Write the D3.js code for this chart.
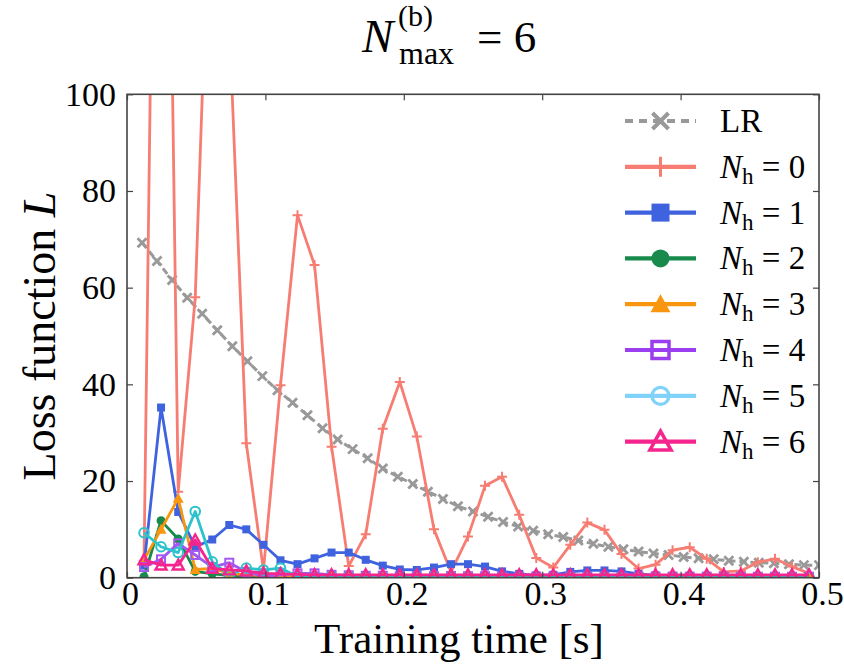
<!DOCTYPE html>
<html>
<head>
<meta charset="utf-8">
<script src="https://cdnjs.cloudflare.com/ajax/libs/d3/7.8.5/d3.min.js"></script>
<style>
  body { margin: 0; background: #fff; }
  text { font-family: "Liberation Serif", "Times New Roman", serif; fill: #000; }
</style>
</head>
<body>
<svg id="chart"></svg>
<script>
// time grids (s)
var timesLR = [0.0109, 0.0217, 0.0326, 0.0435, 0.0543, 0.0652, 0.0761, 0.0870, 0.0978, 0.1087,
  0.1196, 0.1304, 0.1413, 0.1522, 0.1630, 0.1739, 0.1848, 0.1957, 0.2065, 0.2174,
  0.2283, 0.2391, 0.2500, 0.2609, 0.2717, 0.2826, 0.2935, 0.3043, 0.3152, 0.3261,
  0.3370, 0.3478, 0.3587, 0.3696, 0.3804, 0.3913, 0.4022, 0.4130, 0.4239, 0.4348,
  0.4457, 0.4565, 0.4674, 0.4783, 0.4891, 0.5000];
var timesNh = [0.0123, 0.0246, 0.0370, 0.0493, 0.0616, 0.0739, 0.0862, 0.0986, 0.1109, 0.1232,
  0.1355, 0.1478, 0.1602, 0.1725, 0.1848, 0.1971, 0.2094, 0.2218, 0.2341, 0.2464,
  0.2587, 0.2710, 0.2834, 0.2957, 0.3080, 0.3203, 0.3326, 0.3450, 0.3573, 0.3696,
  0.3819, 0.3942, 0.4066, 0.4189, 0.4312, 0.4435, 0.4558, 0.4682, 0.4805, 0.4928];

// loss values
var lossLR = [69.3, 65.5, 61.6, 57.9, 54.6, 51.2, 47.9, 44.8, 41.7, 38.8,
  36.2, 33.6, 30.9, 28.6, 26.6, 24.7, 22.6, 20.9, 19.4, 17.8,
  16.3, 14.8, 13.7, 12.6, 11.5, 10.6, 9.7, 9.0, 8.4, 7.7,
  7.0, 6.4, 5.9, 5.4, 5.0, 4.7, 4.3, 4.0, 3.8, 3.5,
  3.3, 3.1, 3.0, 2.8, 2.6, 2.6];
var lossN0 = [3.5, 270, 17.8, 58, 159, 115, 27.8, 1.5, 39.8, 75,
  64.7, 27.1, 2.4, 9.0, 30.8, 40.5, 29.2, 10.0, 1.2, 8.5,
  19.0, 20.9, 13.0, 4.1, 2.1, 6.8, 11.4, 9.9, 4.9, 1.9,
  2.7, 5.7, 6.3, 3.9, 1.2, 1.4, 3.2, 3.9, 2.3, 0.9];
var lossN1 = [2.5, 35.2, 13.6, 6.4, 7.9, 10.9, 10.0, 6.8, 3.6, 2.8,
  4.0, 5.2, 5.2, 3.7, 2.5, 1.7, 1.6, 2.1, 2.8, 2.8,
  2.3, 1.3, 0.8, 0.5, 0.6, 1.2, 1.5, 1.5, 1.3, 0.8,
  0.5, 0.4, 0.4, 0.4, 0.4, 0.3, 0.3, 0.3, 0.3, 0.3];
var lossN2 = [0.2, 11.8, 8.0, 1.3, 0.8, 0.5, 0.4, 0.3, 0.3, 0.2,
  0.2, 0.2, 0.2, 0.2, 0.2, 0.2, 0.2, 0.2, 0.2, 0.2,
  0.2, 0.2, 0.2, 0.2, 0.2, 0.2, 0.2, 0.2, 0.2, 0.2,
  0.2, 0.2, 0.2, 0.2, 0.2, 0.2, 0.2, 0.2, 0.2, 0.2];
var lossN3 = [3.7, 10.0, 16.4, 1.7, 1.9, 0.9, 0.6, 0.5, 0.4, 0.4,
  0.3, 0.3, 0.3, 0.3, 0.3, 0.3, 0.3, 0.3, 0.3, 0.3,
  0.3, 0.3, 0.3, 0.3, 0.3, 0.3, 0.3, 0.3, 0.3, 0.3,
  0.3, 0.3, 0.3, 0.3, 0.3, 0.3, 0.3, 0.3, 0.3, 0.3];
var lossN4 = [2.2, 3.8, 7.1, 4.7, 2.2, 3.1, 1.2, 0.3, 0.6, 0.9,
  0.9, 0.6, 0.5, 0.4, 0.4, 0.3, 0.3, 0.3, 0.3, 0.3,
  0.3, 0.2, 0.2, 0.2, 0.2, 0.2, 0.2, 0.2, 0.2, 0.2,
  0.2, 0.2, 0.2, 0.2, 0.2, 0.2, 0.2, 0.2, 0.2, 0.2];
var lossN5 = [9.3, 6.4, 5.2, 13.7, 3.3, 0.5, 2.0, 1.6, 2.0, 0.2,
  0.2, 0.4, 0.3, 0.2, 0.2, 0.2, 0.2, 0.2, 0.2, 0.2,
  0.1, 0.1, 0.1, 0.1, 0.1, 0.1, 0.1, 0.1, 0.1, 0.1,
  0.1, 0.1, 0.1, 0.1, 0.1, 0.1, 0.1, 0.1, 0.1, 0.1];
var lossN6 = [3.7, 2.6, 2.6, 7.8, 1.9, 1.6, 1.4, 0.9, 0.8, 0.7,
  0.6, 0.6, 0.6, 0.6, 0.6, 0.6, 0.6, 0.6, 0.6, 0.6,
  0.6, 0.6, 0.6, 0.6, 0.6, 0.6, 0.6, 0.6, 0.6, 0.6,
  0.6, 0.6, 0.6, 0.6, 0.6, 0.6, 0.6, 0.6, 0.6, 0.6];

var xTicks = [0, 0.1, 0.2, 0.3, 0.4, 0.5];
var yTicks = [0, 20, 40, 60, 80, 100];
var hiddenCounts = ["0", "1", "2", "3", "4", "5", "6"];

var width = 844, height = 670;
var margin = {left: 127, right: 25, top: 94.3, bottom: 92.3};

var svg = d3.select("#chart").attr("width", width).attr("height", height);

var xScale = d3.scaleLinear().domain([0, 0.5]).range([margin.left, width - margin.right]);
var yScale = d3.scaleLinear().domain([0, 100]).range([height - margin.bottom, margin.top]);

// series table
var series = [
  {label: "LR", t: timesLR, y: lossLR, color: "#999999", legendColor: "#999999", marker: "x", dash: "7,4"},
  {label: hiddenCounts[0], t: timesNh, y: lossN0, color: "#f77d72", legendColor: "#f77d72", marker: "plus"},
  {label: hiddenCounts[1], t: timesNh, y: lossN1, color: "#3f63df", legendColor: "#3f63df", marker: "square"},
  {label: hiddenCounts[2], t: timesNh, y: lossN2, color: "#178a4c", legendColor: "#178a4c", marker: "circle"},
  {label: hiddenCounts[3], t: timesNh, y: lossN3, color: "#f9960f", legendColor: "#f9960f", marker: "triangle"},
  {label: hiddenCounts[4], t: timesNh, y: lossN4, color: "#a259f0", legendColor: "#9a3ef0", marker: "squareOpen"},
  {label: hiddenCounts[5], t: timesNh, y: lossN5, color: "#2cc3cc", legendColor: "#80d2f8", marker: "circleOpen"},
  {label: hiddenCounts[6], t: timesNh, y: lossN6, color: "#f5258d", legendColor: "#f5258d", marker: "triangleOpen"}
];

function drawMarker(g, type, color, s, sw) {
  if (type === "x") {
    g.append("path").attr("d", "M" + (-s) + "," + (-s) + "L" + s + "," + s + "M" + (-s) + "," + s + "L" + s + "," + (-s))
      .attr("stroke", color).attr("stroke-width", sw).attr("fill", "none");
  } else if (type === "plus") {
    g.append("path").attr("d", "M" + (-s) + ",0H" + s + "M0," + (-s) + "V" + s)
      .attr("stroke", color).attr("stroke-width", sw).attr("fill", "none");
  } else if (type === "square" || type === "squareOpen") {
    var r = g.append("rect").attr("x", -s).attr("y", -s).attr("width", 2 * s).attr("height", 2 * s);
    if (type === "square") r.attr("fill", color);
    else r.attr("fill", "none").attr("stroke", color).attr("stroke-width", sw);
  } else if (type === "circle" || type === "circleOpen") {
    var c = g.append("circle").attr("r", s);
    if (type === "circle") c.attr("fill", color);
    else c.attr("fill", "none").attr("stroke", color).attr("stroke-width", sw);
  } else {
    var p = g.append("path").attr("d", "M0," + (-s) + "L" + s + "," + (s * 0.8) + "L" + (-s) + "," + (s * 0.8) + "Z");
    if (type === "triangle") p.attr("fill", color);
    else p.attr("fill", "none").attr("stroke", color).attr("stroke-width", sw).attr("stroke-linejoin", "miter");
  }
}

var plotSize = {x: 4.5, plus: 5, square: 4, circle: 4.5, triangle: 5.5, squareOpen: 4, circleOpen: 4.8, triangleOpen: 5.5};
var plotStroke = {x: 2.8, plus: 2, squareOpen: 2, circleOpen: 2, triangleOpen: 2.4};

svg.append("clipPath").attr("id", "plotclip").append("rect")
  .attr("x", margin.left).attr("y", margin.top)
  .attr("width", width - margin.left - margin.right)
  .attr("height", height - margin.top - margin.bottom);

var plot = svg.append("g").attr("clip-path", "url(#plotclip)");

var line = d3.line().x(function(d) { return xScale(d[0]); }).y(function(d) { return yScale(d[1]); });

series.forEach(function(s) {
  var pts = s.t.map(function(t, i) { return [t, s.y[i]]; });
  var g = plot.append("g");
  g.append("path").datum(pts).attr("d", line)
    .attr("fill", "none").attr("stroke", s.color).attr("stroke-width", s.dash ? 3 : 2.8)
    .attr("stroke-dasharray", s.dash || null).attr("stroke-linejoin", "round");
  g.selectAll("g.mk").data(pts).enter().append("g").attr("class", "mk")
    .attr("transform", function(d) { return "translate(" + xScale(d[0]) + "," + yScale(d[1]) + ")"; })
    .each(function() { drawMarker(d3.select(this), s.marker, s.color, plotSize[s.marker], plotStroke[s.marker] || 2); });
});

// frame and ticks
var axisColor = "#444";
var xAxisB = svg.append("g").attr("transform", "translate(0," + (height - margin.bottom) + ")")
  .call(d3.axisBottom(xScale).tickValues(xTicks).tickSize(-6).tickPadding(3).tickFormat(d3.format("")));
var xAxisT = svg.append("g").attr("transform", "translate(0," + margin.top + ")")
  .call(d3.axisTop(xScale).tickValues(xTicks).tickSize(-6).tickFormat(""));
var yAxisL = svg.append("g").attr("transform", "translate(" + margin.left + ",0)")
  .call(d3.axisLeft(yScale).tickValues(yTicks).tickSize(-6).tickPadding(11));
var yAxisR = svg.append("g").attr("transform", "translate(" + (width - margin.right) + ",0)")
  .call(d3.axisRight(yScale).tickValues(yTicks).tickSize(-6).tickFormat(""));

[xAxisB, xAxisT, yAxisL, yAxisR].forEach(function(a) {
  a.select(".domain").remove();
  a.selectAll("line").attr("stroke", axisColor).attr("stroke-width", 1.2);
  a.selectAll("text").attr("font-size", 34).attr("fill", "#000");
});
xAxisB.selectAll("text").attr("dx", 3);

svg.append("rect").attr("x", margin.left).attr("y", margin.top)
  .attr("width", width - margin.left - margin.right).attr("height", height - margin.top - margin.bottom)
  .attr("fill", "none").attr("stroke", axisColor).attr("stroke-width", 1.6);

// axis titles
svg.append("text").attr("x", 459).attr("y", 653).attr("text-anchor", "middle")
  .attr("font-size", 43).text("Training time [s]");
var yl = svg.append("text").attr("transform", "translate(55,336) rotate(-90)").attr("text-anchor", "middle")
  .attr("font-size", 46);
yl.append("tspan").text("Loss function ");
yl.append("tspan").attr("font-style", "italic").text("L");

// title
svg.append("text").attr("x", 362).attr("y", 52).attr("font-size", 47).attr("font-style", "italic").text("N");
svg.append("text").attr("x", 398).attr("y", 26).attr("font-size", 30).text("(b)");
svg.append("text").attr("x", 399).attr("y", 64).attr("font-size", 32).text("max");
svg.append("text").attr("x", 477).attr("y", 52).attr("font-size", 45).text("= 6");

// legend
var legend = svg.append("g");
var legX0 = 625, legX1 = 696, legY0 = 121, legStep = 45.8;
var legSize = {x: 8, plus: 10, square: 9, circle: 9, triangle: 10, squareOpen: 8.5, circleOpen: 8.5, triangleOpen: 10.5};
var legStroke = {x: 4, plus: 3, squareOpen: 3.5, circleOpen: 3.2, triangleOpen: 3.6};

series.forEach(function(s, i) {
  var y = legY0 + i * legStep;
  var g = legend.append("g");
  g.append("line").attr("x1", legX0).attr("x2", legX1).attr("y1", y).attr("y2", y)
    .attr("stroke", s.legendColor).attr("stroke-width", s.dash ? 4 : 4.2)
    .attr("stroke-dasharray", s.dash ? "8,6" : null);
  var mk = g.append("g").attr("transform", "translate(" + ((legX0 + legX1) / 2) + "," + y + ")");
  drawMarker(mk, s.marker, s.legendColor, legSize[s.marker], legStroke[s.marker] || 3);
  var t = g.append("text").attr("x", 720).attr("y", y + 11).attr("font-size", 33);
  if (s.marker === "x") {
    t.text("LR");
  } else {
    t.append("tspan").attr("font-style", "italic").text("N");
    t.append("tspan").attr("font-size", 23).attr("dy", 6).text("h");
    t.append("tspan").attr("dy", -6).text(" = " + s.label);
  }
});
</script>
</body>
</html>
